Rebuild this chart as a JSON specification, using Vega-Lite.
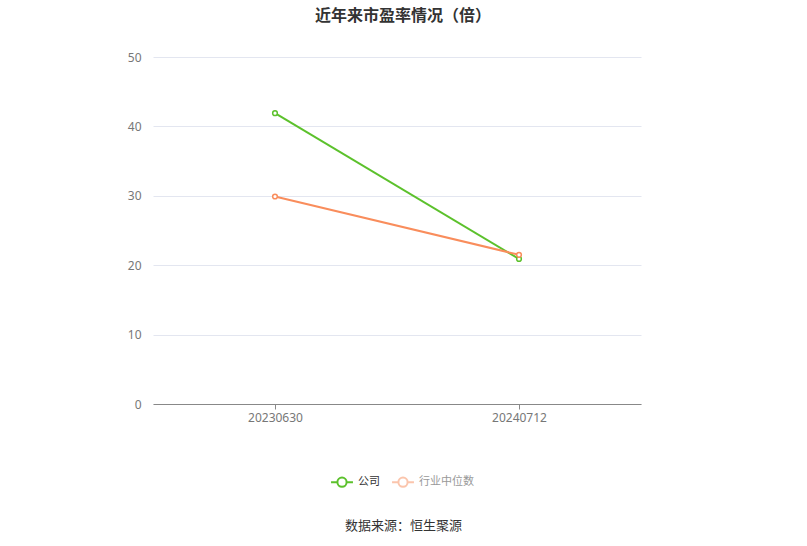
{
  "$schema": "https://vega.github.io/schema/vega-lite/v6.json",
  "autosize": "none",
  "width": 488,
  "height": 347,
  "padding": {"left": 153, "top": 57, "right": 166, "bottom": 142},
  "background": "white",
  "config": {"view": {"stroke": null}},
  "title": {
    "text": "近年来市盈率情况（倍）",
    "fontSize": 16,
    "fontWeight": "bold",
    "color": "#333333",
    "font": "Noto Sans CJK SC",
    "anchor": "middle",
    "frame": "group",
    "dx": 6,
    "offset": 27
  },
  "data": {
    "values": [
      {"date": "20230630", "series": "公司", "value": 41.9},
      {"date": "20240712", "series": "公司", "value": 20.9},
      {"date": "20230630", "series": "行业中位数", "value": 29.9},
      {"date": "20240712", "series": "行业中位数", "value": 21.5}
    ]
  },
  "mark": {
    "type": "line",
    "strokeWidth": 2,
    "point": {"filled": false, "fill": "white", "size": 22, "strokeWidth": 1.5}
  },
  "encoding": {
    "x": {
      "field": "date",
      "type": "nominal",
      "scale": {"type": "point", "padding": 0.5},
      "axis": {
        "labelAngle": 0,
        "labelColor": "#777777",
        "labelFontSize": 12,
        "labelFont": "Noto Sans",
        "domainColor": "#888888",
        "tickColor": "#888888",
        "tickSize": 5,
        "labelPadding": 3,
        "grid": false,
        "title": "数据来源：恒生聚源",
        "titleFont": "Noto Sans CJK SC",
        "titleFontSize": 13,
        "titleFontWeight": "normal",
        "titleColor": "#333333",
        "titleX": 250,
        "titleY": 121,
        "titleBaseline": "middle"
      }
    },
    "y": {
      "field": "value",
      "type": "quantitative",
      "scale": {"domain": [0, 50]},
      "axis": {
        "values": [0, 10, 20, 30, 40, 50],
        "title": null,
        "domain": false,
        "ticks": false,
        "labelColor": "#777777",
        "labelFontSize": 12,
        "labelFont": "Noto Sans",
        "labelPadding": 12,
        "gridColor": "#e3e6f0",
        "gridWidth": 1
      }
    },
    "color": {
      "field": "series",
      "type": "nominal",
      "scale": {"domain": ["公司", "行业中位数"], "range": ["#5cc12c", "#f98d5c"]},
      "legend": {
        "title": null,
        "orient": "none",
        "legendX": 177,
        "legendY": 413,
        "direction": "horizontal",
        "symbolType": "M-1,0H-0.42M0.42,0H1M0.42,0A0.42,0.42,0,1,1,-0.42,0A0.42,0.42,0,1,1,0.42,0",
        "symbolSize": 480,
        "symbolStrokeWidth": 2,
        "symbolFillColor": "white",
        "labelFont": "Noto Sans CJK SC",
        "labelFontSize": 11,
        "labelOffset": 4,
        "columnPadding": 8,
        "encode": {
          "labels": {"update": {"fill": {"signal": "datum.label == '公司' ? '#333333' : '#999999'"}}},
          "symbols": {"update": {"opacity": {"signal": "datum.label == '公司' ? 1 : 0.5"}}}
        }
      }
    }
  }
}
